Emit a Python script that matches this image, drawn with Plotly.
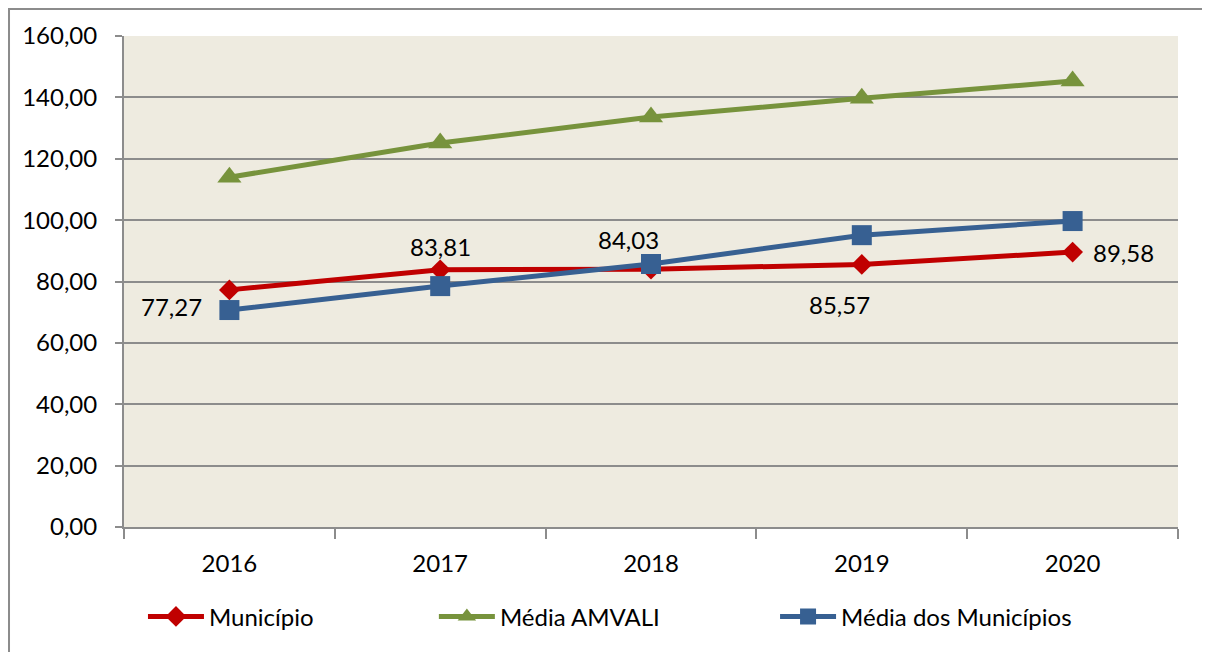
import plotly.graph_objects as go

years = ["2016", "2017", "2018", "2019", "2020"]
municipio = [77.27, 83.81, 84.03, 85.57, 89.58]
media_amvali = [114.0, 125.1, 133.6, 139.7, 145.3]
media_municipios = [70.7, 78.5, 85.7, 95.1, 99.7]
municipio_labels = ["77,27", "83,81", "84,03", "85,57", "89,58"]
label_shifts = [(-58, -17), (0, 23), (-23, 30), (-22, -40), (51, 0)]

FONT = "Lato"
FS = 24
RED = "#C00000"
GREEN = "#77933C"
BLUE = "#376092"

fig = go.Figure()
fig.add_trace(go.Scatter(
    x=years, y=municipio, name="Município", mode="lines+markers",
    line=dict(color=RED, width=5),
    marker=dict(symbol="diamond", size=16, color=RED),
    legend="legend",
))
fig.add_trace(go.Scatter(
    x=years, y=media_amvali, name="Média AMVALI", mode="lines+markers",
    line=dict(color=GREEN, width=5),
    marker=dict(symbol="triangle-up", size=21, color=GREEN),
    legend="legend2",
))
fig.add_trace(go.Scatter(
    x=years, y=media_municipios, name="Média dos Municípios", mode="lines+markers",
    line=dict(color=BLUE, width=5),
    marker=dict(symbol="square", size=20, color=BLUE),
    legend="legend3",
))

for i, (v, t, (dx, dy)) in enumerate(zip(municipio, municipio_labels, label_shifts)):
    fig.add_annotation(x=i, y=v, xref="x", yref="y", text=t, showarrow=False,
                       xshift=dx, yshift=dy,
                       font=dict(family=FONT, size=FS, color="black"))

fig.add_shape(type="rect", xref="paper", yref="paper",
              x0=-0.1091, x1=1.0275, y0=-0.28, y1=1.055,
              line=dict(color="#8c8c8c", width=2), layer="below")

def leg(x):
    return dict(orientation="h", x=x, xanchor="left", y=-0.183, yanchor="middle",
                itemwidth=56, font=dict(family=FONT, size=FS),
                bgcolor="rgba(0,0,0,0)")

fig.update_layout(
    width=1210, height=652,
    margin=dict(l=116, r=40, t=28, b=133, autoexpand=False),
    paper_bgcolor="white",
    plot_bgcolor="#EEEBE0",
    separators=",.",
    font=dict(family=FONT, size=FS, color="black"),
    showlegend=True,
    hovermode=False,
    legend=leg(0.018),
    legend2=leg(0.294),
    legend3=leg(0.6177),
    xaxis=dict(
        type="category", tickson="boundaries", ticks="outside", ticklen=10,
        tickcolor="#8c8c8c", tickwidth=1.5,
        showline=True, linecolor="#8c8c8c", linewidth=2,
        showgrid=False, range=[-0.5, 4.5], fixedrange=True,
        ticklabelstandoff=14,
        tickfont=dict(family=FONT, size=FS),
    ),
    yaxis=dict(
        range=[0, 160], dtick=20, tickformat=".2f",
        ticks="outside", ticklen=7, tickcolor="#8c8c8c", tickwidth=1.5,
        showline=True, linecolor="#8c8c8c", linewidth=2,
        showgrid=True, gridcolor="#8c8c8c", gridwidth=2,
        zeroline=False, fixedrange=True,
        ticklabelstandoff=13,
        tickfont=dict(family=FONT, size=FS),
    ),
)

fig.write_html("out.html")
